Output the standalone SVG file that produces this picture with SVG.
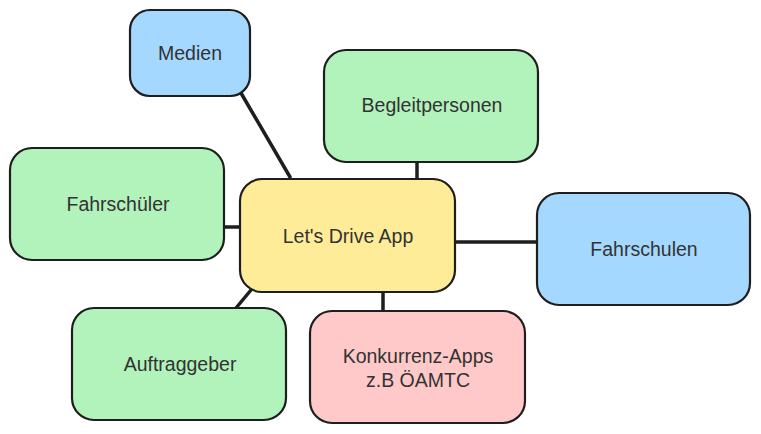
<svg xmlns="http://www.w3.org/2000/svg" width="761" height="434" viewBox="0 0 761 434">
<style>
.box{stroke:#1e1e1e;stroke-width:2.2;stroke-linejoin:round}
.blue{fill:#a5d8ff}.green{fill:#b2f2bb}.yellow{fill:#ffec99}.red{fill:#ffc9c9}
.lbl{font-family:"Liberation Sans",Arial,sans-serif;font-size:19.5px;fill:#333;text-anchor:middle;dominant-baseline:central}
.con{stroke:#1e1e1e;stroke-width:3.5;stroke-linecap:round;fill:none}
</style>
<rect width="761" height="434" fill="#ffffff"/>
<g id="connectors">
<line class="con" x1="241" y1="93" x2="290" y2="177"/>
<line class="con" x1="417" y1="162" x2="417" y2="178"/>
<line class="con" x1="224" y1="227" x2="240" y2="227"/>
<line class="con" x1="455" y1="242" x2="537" y2="242"/>
<line class="con" x1="251" y1="290" x2="236" y2="308"/>
<line class="con" x1="383" y1="292" x2="383" y2="311"/>
</g>
<g id="medien">
<rect class="box blue" x="130" y="10" width="120" height="86" rx="20"/>
<text class="lbl" x="190" y="53">Medien</text>
</g>
<g id="begleitpersonen">
<rect class="box green" x="324" y="50" width="214" height="112" rx="22"/>
<text class="lbl" x="432" y="105">Begleitpersonen</text>
</g>
<g id="fahrschueler">
<rect class="box green" x="10" y="148" width="214" height="112" rx="22"/>
<text class="lbl" x="118" y="204">Fahrschüler</text>
</g>
<g id="letsdrive">
<rect class="box yellow" x="240" y="179" width="215" height="113" rx="22"/>
<text class="lbl" x="348" y="236">Let's Drive App</text>
</g>
<g id="fahrschulen">
<rect class="box blue" x="537" y="193" width="213" height="112" rx="22"/>
<text class="lbl" x="644" y="249">Fahrschulen</text>
</g>
<g id="auftraggeber">
<rect class="box green" x="72" y="308" width="214" height="112" rx="22"/>
<text class="lbl" x="180" y="364">Auftraggeber</text>
</g>
<g id="konkurrenz">
<rect class="box red" x="310" y="311" width="215" height="112" rx="22"/>
<text class="lbl" x="418" y="356">Konkurrenz-Apps</text>
<text class="lbl" x="418" y="380">z.B ÖAMTC</text>
</g>
</svg>
